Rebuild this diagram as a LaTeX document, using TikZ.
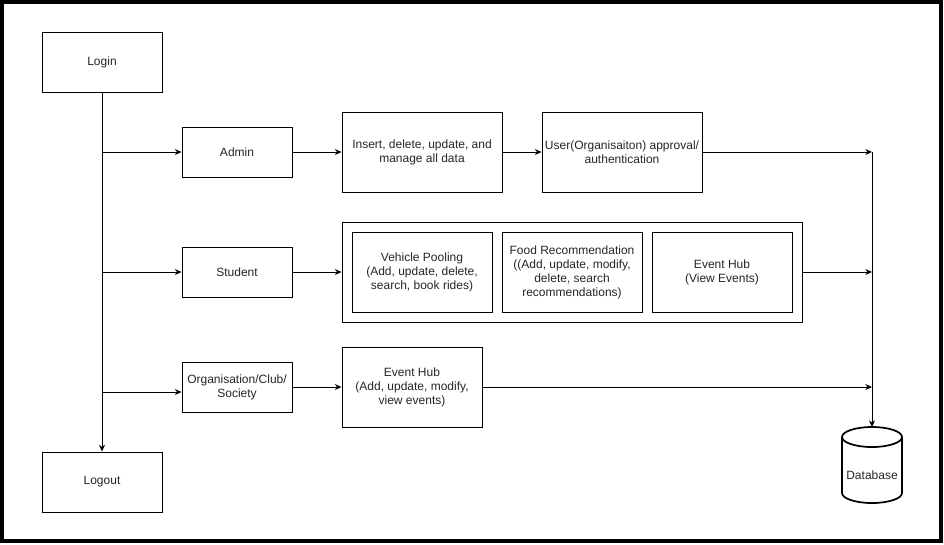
\documentclass[tikz,border=0pt]{standalone}
\usepackage{fontspec}
\setmainfont{Liberation Sans}
\usetikzlibrary{arrows.meta}
\begin{document}
\begin{tikzpicture}[x=0.75pt, y=-0.75pt,
  line width=0.75pt,
  every node/.style={font=\fontsize{9}{10.5}\selectfont, text=black!85, inner sep=0pt, align=center},
  box/.style={draw, fill=white, rectangle},
  bigbox/.style={box, minimum width=90pt, minimum height=45pt},
  rolebox/.style={box, minimum width=82.5pt, minimum height=37.5pt},
  taskbox/.style={box, minimum width=120pt, minimum height=60pt},
  subbox/.style={box, minimum width=105pt, minimum height=60pt},
  dbline/.style={draw, fill=white, line width=1.3pt},
  arr/.style={-{Stealth[length=5pt, width=4.5pt]}}
]
% page frame
\useasboundingbox (0,0) rectangle (944,544);
\fill[white] (0,0) rectangle (944,544);
\draw[line width=3pt] (2,2) rectangle (941,541);

% entry / exit
\node[bigbox] (login) at (102,62) {Login};
\node[bigbox] (logout) at (102,482) {Logout};

% roles
\node[rolebox] (admin) at (237,152) {Admin};
\node[rolebox] (student) at (237,272) {Student};
\node[rolebox, text width=80pt] (org) at (237,387) {Organisation/Club/\\Society};

% admin tasks
\node[taskbox] (manage) at (422,152) {Insert, delete, update, and\\manage all data};
\node[taskbox] (approve) at (622,152) {User(Organisaiton) approval/\\authentication};

% student services
\node[box, minimum width=345pt, minimum height=75pt] (services) at (572,272) {};
\node[subbox] (vehicle) at (422,272) {Vehicle Pooling\\(Add, update, delete,\\search, book rides)};
\node[subbox] (food) at (572,272) {Food Recommendation\\((Add, update, modify,\\delete, search\\recommendations)};
\node[subbox] (evview) at (722,272) {Event Hub\\(View Events)};

% organisation service
\node[subbox] (evorg) at (412,387) {Event Hub\\(Add, update, modify,\\view events)};

% database cylinder
\node[minimum width=45pt, minimum height=58.5pt] (db) at (872,466) {};
\path[dbline] (842,437) -- (842,493)
  arc[start angle=180, end angle=360, x radius=22.5pt, y radius=7.5pt] -- (902,437);
\path[dbline] (872,437) ellipse[x radius=22.5pt, y radius=7.5pt];
\node (dblabel) at (872,475) {Database};

% junction points
\coordinate (ja) at (102,152);
\coordinate (js) at (102,272);
\coordinate (jo) at (102,392);
\coordinate (j1) at (872,152);
\coordinate (j2) at (872,272);
\coordinate (j3) at (872,387);
\coordinate (dbtop) at (872,427);

% connectors
\draw[arr] (login.south) -- (logout.north);
\draw[arr] (ja) -- (admin.west);
\draw[arr] (js) -- (student.west);
\draw[arr] (jo) -- (org.west |- jo);
\draw[arr] (admin.east) -- (manage.west);
\draw[arr] (manage.east) -- (approve.west);
\draw[arr] (student.east) -- (services.west);
\draw[arr] (org.east) -- (evorg.west);
\draw[arr] (approve.east) -- (j1);
\draw[arr] (services.east) -- (j2);
\draw[arr] (evorg.east) -- (j3);
\draw[arr] (j1) -- (dbtop);
\end{tikzpicture}
\end{document}
